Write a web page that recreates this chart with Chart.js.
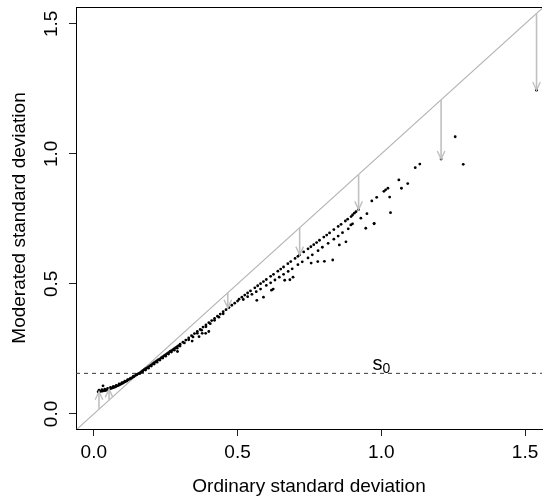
<!DOCTYPE html>
<html lang="en">
<head>
  <meta charset="UTF-8">
  <title>Moderated vs ordinary standard deviation</title>
  <script src="https://cdn.jsdelivr.net/npm/chart.js"></script>
  <style>
    html, body { margin: 0; padding: 0; background: #fff; overflow: hidden; }
    #wrap { width: 546px; height: 496px; }
  </style>
</head>
<body>

<div id="wrap"><canvas id="sd-chart" width="546" height="496"></canvas></div>

<script>
  // main dense curve (ordinary sd -> moderated sd)
  const curveX = [0.015,0.02,0.025,0.03,0.035,0.04,0.045,0.05,0.055,0.06,0.065,0.07,0.075,0.08,0.085,0.09,0.095,0.10,
    0.105,0.11,0.115,0.12,0.125,0.13,0.135,0.14,0.145,0.15,0.155,0.16,0.165,0.17,0.175,0.18,0.185,0.19,0.195,0.20,
    0.205,0.21,0.215,0.22,0.225,0.23,0.235,0.24,0.245,0.25,0.255,0.26,0.265,0.27,0.275,0.28,0.285,0.29,0.295,0.30,
    0.31,0.32,0.33,0.34,0.35,0.36,0.37,0.38,0.39,0.40,0.41,0.42,0.43,0.44,0.45,0.46,0.47,0.48,0.49,0.50];
  const curveY = [0.085,0.086,0.087,0.088,0.089,0.090,0.092,0.094,0.096,0.098,0.100,0.102,0.104,0.107,0.109,0.112,0.115,0.118,
    0.121,0.124,0.127,0.131,0.134,0.137,0.141,0.144,0.148,0.151,0.155,0.158,0.162,0.166,0.170,0.174,0.177,0.181,0.185,0.189,
    0.193,0.197,0.201,0.205,0.209,0.212,0.216,0.220,0.224,0.228,0.232,0.236,0.240,0.243,0.247,0.251,0.255,0.259,0.263,0.268,
    0.276,0.284,0.292,0.301,0.309,0.317,0.325,0.334,0.342,0.351,0.359,0.367,0.376,0.384,0.393,0.401,0.409,0.418,0.426,0.434];

  // second row of the dense curve (it is a few pixels thick)
  const curve2X = [0.018,0.028,0.032,0.038,0.048,0.058,0.068,0.078,0.088,0.098,0.108,0.118,0.128,0.138,0.148,0.16,0.17,0.18,0.19,
    0.20,0.21,0.22,0.23,0.24,0.25,0.26,0.27,0.28,0.29,0.291,0.30,0.315,0.33,0.345,0.36,0.375,0.39,0.405,0.42,0.435,0.45];
  const curve2Y = [0.091,0.093,0.108,0.095,0.098,0.102,0.106,0.110,0.115,0.120,0.126,0.132,0.138,0.145,0.151,0.155,0.162,0.169,0.176,
    0.184,0.192,0.199,0.207,0.215,0.222,0.230,0.238,0.245,0.253,0.240,0.261,0.273,0.285,0.296,0.310,0.322,0.335,0.347,0.360,0.372,0.385];

  // upper band
  const upperX = [0.505,0.515,0.525,0.535,0.545,0.56,0.57,0.58,0.59,0.60,0.615,0.625,0.64,0.65,0.66,0.675,0.685,0.70,0.71,0.716,
    0.73,0.745,0.755,0.765,0.775,0.785,0.80,0.81,0.82,0.835,0.85,0.86,0.875,0.883,0.895,0.90,0.906,0.912,0.921,0.929];
  const upperY = [0.441,0.449,0.457,0.465,0.473,0.485,0.493,0.501,0.509,0.517,0.529,0.537,0.549,0.557,0.565,0.578,0.586,0.598,0.606,0.612,
    0.623,0.635,0.643,0.651,0.659,0.668,0.680,0.688,0.696,0.709,0.721,0.729,0.742,0.749,0.759,0.765,0.772,0.778,0.786,0.753];

  // middle band
  const middleX = [0.52,0.535,0.55,0.565,0.58,0.60,0.615,0.63,0.645,0.66,0.676,0.69,0.71,0.725,0.745,0.76,0.78,0.795,0.815,
    0.835,0.85,0.865,0.885,0.894,0.90];
  const middleY = [0.440,0.451,0.460,0.470,0.480,0.494,0.504,0.515,0.526,0.537,0.548,0.558,0.574,0.585,0.600,0.612,0.628,0.641,0.656,
    0.672,0.684,0.697,0.712,0.727,0.731];

  // lower scattered points
  const lowerX = [0.342,0.366,0.377,0.389,0.40,0.567,0.59,0.618,0.624,0.664,0.682,0.693,0.756,0.779,0.802,0.831,0.854,0.877,
    0.946,0.975,0.975];
  const lowerY = [0.280,0.297,0.310,0.310,0.317,0.437,0.449,0.476,0.480,0.514,0.516,0.526,0.580,0.586,0.587,0.592,0.650,0.662,
    0.714,0.733,0.731];

  // large sd points
  const highX = [0.950,0.967,0.984,1.009,1.015,1.023,1.029,1.032,1.061,1.070,1.092,1.118,1.134,1.208,1.257,1.285,1.540];
  const highY = [0.770,0.819,0.833,0.856,0.862,0.868,0.834,0.774,0.900,0.868,0.886,0.947,0.961,0.980,1.066,0.960,1.245];

  // arrows: from the diagonal (x, x) to the moderated value
  const arrowX  = [0.018,0.053,0.466,0.716,0.921,1.208,1.540];
  const arrowTo = [0.086,0.095,0.408,0.612,0.786,0.980,1.245];

  const s0 = 0.156;
  const s0LabelX = 1.0;

  const xTicks = [0, 0.5, 1, 1.5];
  const yTicks = [0, 0.5, 1, 1.5];
  const xRange = [-0.062, 1.559];
  const yRange = [-0.058, 1.565];

  const FONT = '"Liberation Sans", Arial, Helvetica, sans-serif';

  function pairs(xs, ys) {
    return xs.map((v, i) => ({ x: v, y: ys[i] }));
  }

  const points = [].concat(
    pairs(curveX, curveY), pairs(curve2X, curve2Y), pairs(upperX, upperY),
    pairs(middleX, middleY), pairs(lowerX, lowerY), pairs(highX, highY)
  );

  const datasets = [];

  // points on top
  datasets.push({
    type: 'scatter',
    data: points,
    pointRadius: 1.4,
    pointBackgroundColor: '#000',
    pointBorderWidth: 0
  });

  // arrow shafts
  arrowX.forEach((v, i) => {
    datasets.push({
      type: 'line',
      data: [{ x: v, y: v }, { x: v, y: arrowTo[i] }],
      borderColor: '#c0c0c0',
      borderWidth: 1.6,
      pointRadius: 0
    });
  });

  // identity line
  datasets.push({
    type: 'line',
    data: [{ x: -0.2, y: -0.2 }, { x: 1.8, y: 1.8 }],
    borderColor: '#b3b3b3',
    borderWidth: 1.1,
    pointRadius: 0
  });

  // s0 line
  datasets.push({
    type: 'line',
    data: [{ x: xRange[0], y: s0 }, { x: xRange[1], y: s0 }],
    borderColor: '#3a3a3a',
    borderWidth: 1,
    borderDash: [4, 4],
    pointRadius: 0
  });

  // arrow heads, rotated y tick labels, s0 label, top border
  const extras = {
    id: 'extras',
    afterDatasetsDraw(chart) {
      const { ctx, scales: { x, y } } = chart;
      ctx.save();
      ctx.strokeStyle = '#c0c0c0';
      ctx.lineWidth = 1.4;
      const len = 9, ang = 25 * Math.PI / 180;
      arrowX.forEach((v, i) => {
        const px = x.getPixelForValue(v);
        const y0 = y.getPixelForValue(v);
        const y1 = y.getPixelForValue(arrowTo[i]);
        const dir = y1 > y0 ? 1 : -1;
        ctx.beginPath();
        ctx.moveTo(px - len * Math.sin(ang), y1 - dir * len * Math.cos(ang));
        ctx.lineTo(px, y1);
        ctx.lineTo(px + len * Math.sin(ang), y1 - dir * len * Math.cos(ang));
        ctx.stroke();
      });
      ctx.restore();
    },
    afterDraw(chart) {
      const { ctx, chartArea, scales: { x, y } } = chart;
      ctx.save();
      // top border
      ctx.strokeStyle = '#000';
      ctx.lineWidth = 1;
      ctx.beginPath();
      ctx.moveTo(chartArea.left, Math.round(chartArea.top) + 0.5);
      ctx.lineTo(chartArea.right, Math.round(chartArea.top) + 0.5);
      ctx.stroke();

      // y tick labels, rotated like R
      ctx.fillStyle = '#000';
      ctx.font = '19px ' + FONT;
      ctx.textAlign = 'center';
      ctx.textBaseline = 'alphabetic';
      yTicks.forEach(v => {
        const py = y.getPixelForValue(v);
        ctx.save();
        ctx.translate(57, py);
        ctx.rotate(-Math.PI / 2);
        ctx.fillText(v.toFixed(1), 0, 0);
        ctx.restore();
      });

      // s0 label
      const cx = x.getPixelForValue(s0LabelX);
      const by = y.getPixelForValue(s0) - 3.5;
      ctx.font = '20px ' + FONT;
      const ws = ctx.measureText('s').width;
      ctx.font = '14px ' + FONT;
      const w0 = ctx.measureText('0').width;
      const start = cx - (ws + w0) / 2;
      ctx.textAlign = 'left';
      ctx.font = '20px ' + FONT;
      ctx.fillText('s', start, by);
      ctx.font = '14px ' + FONT;
      ctx.fillText('0', start + ws, by + 3);
      ctx.restore();
    }
  };

  new Chart(document.getElementById('sd-chart').getContext('2d'), {
    data: { datasets: datasets },
    plugins: [extras],
    options: {
      responsive: false,
      animation: false,
      layout: { padding: { top: 7, left: 0, right: 0, bottom: 0 } },
      plugins: { legend: { display: false }, tooltip: { enabled: false } },
      scales: {
        x: {
          type: 'linear',
          min: xRange[0],
          max: xRange[1],
          afterBuildTicks: s => { s.ticks = xTicks.map(v => ({ value: v })); },
          afterFit: s => { s.height = 67; },
          grid: { drawOnChartArea: false, drawTicks: true, tickLength: 7, color: '#222' },
          border: { display: true, color: '#000', width: 1 },
          ticks: {
            color: '#000',
            font: { family: FONT, size: 19 },
            padding: 5,
            maxRotation: 0,
            callback: v => v.toFixed(1)
          },
          title: {
            display: true,
            text: 'Ordinary standard deviation',
            color: '#000',
            font: { family: FONT, size: 19, lineHeight: 1 },
            padding: { top: 0, bottom: 0 }
          }
        },
        y: {
          type: 'linear',
          min: yRange[0],
          max: yRange[1],
          afterBuildTicks: s => { s.ticks = yTicks.map(v => ({ value: v })); },
          afterFit: s => { s.width = 76; },
          grid: { drawOnChartArea: false, drawTicks: true, tickLength: 7, color: '#222' },
          border: { display: true, color: '#000', width: 1 },
          ticks: { display: false },
          title: {
            display: true,
            text: 'Moderated standard deviation',
            color: '#000',
            font: { family: FONT, size: 19, lineHeight: 1 },
            padding: { top: 10, bottom: 0 }
          }
        }
      }
    }
  });
</script>

</body>
</html>
